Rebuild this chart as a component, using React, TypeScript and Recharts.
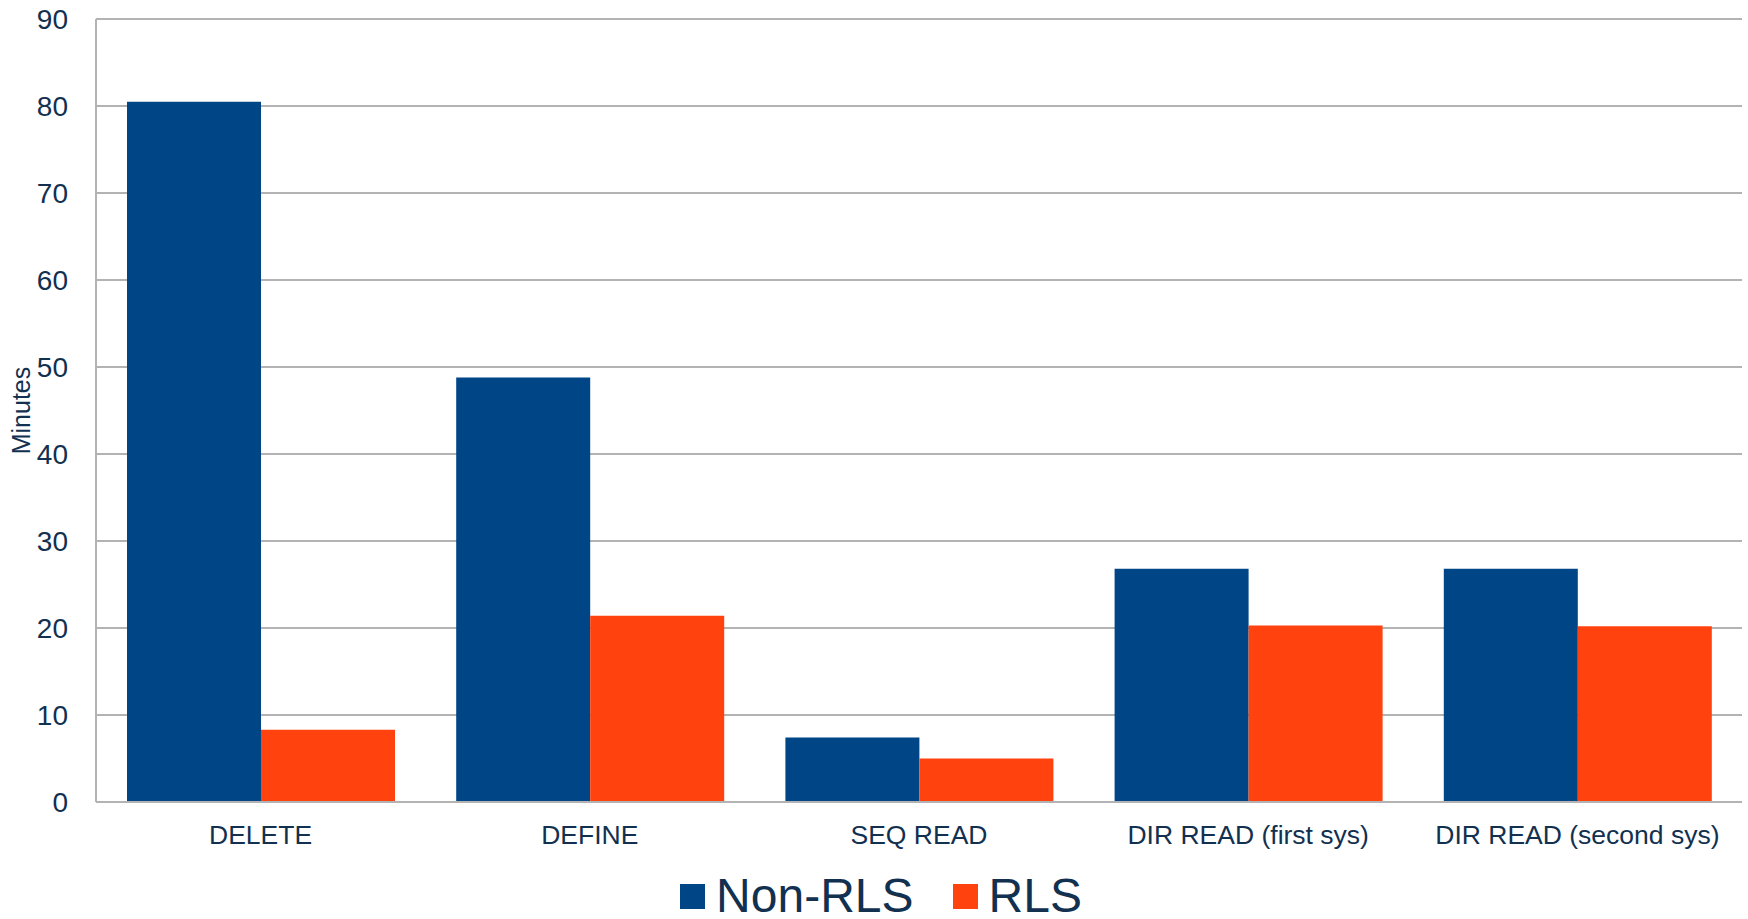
import {
  BarChart,
  Bar,
  XAxis,
  YAxis,
  CartesianGrid,
  Legend,
  Label,
} from "recharts";

const categories = [
  "DELETE",
  "DEFINE",
  "SEQ READ",
  "DIR READ (first sys)",
  "DIR READ (second sys)",
];
const nonRls = [80.5, 48.8, 7.4, 26.8, 26.8];
const rls = [8.3, 21.4, 5.0, 20.3, 20.2];
const yTicks = [0, 10, 20, 30, 40, 50, 60, 70, 80, 90];

const seriesInfo = [
  { key: "nonRls", name: "Non-RLS", color: "#004586" },
  { key: "rls", name: "RLS", color: "#ff420e" },
];

const TEXT = "#12304f";
const FONT = "'Liberation Sans', Arial, sans-serif";

const chartData = categories.map((c, i) => ({
  name: c,
  nonRls: nonRls[i],
  rls: rls[i],
}));

function LegendBox() {
  return (
    <div
      style={{
        display: "flex",
        justifyContent: "center",
        alignItems: "center",
        height: 60,
        boxSizing: "border-box",
        paddingTop: 14,
        paddingLeft: 20,
        fontFamily: FONT,
        color: TEXT,
        fontSize: 48,
        lineHeight: "46px",
      }}
    >
      {seriesInfo.map((s, i) => (
        <div
          key={s.key}
          style={{ display: "flex", alignItems: "center", marginLeft: i ? 39 : 0 }}
        >
          <span
            style={{ width: 25, height: 25, background: s.color, marginRight: 11 }}
          />
          <span>{s.name}</span>
        </div>
      ))}
    </div>
  );
}

export default function App() {
  return (
    <div style={{ position: "absolute", left: 0, top: 0, background: "#fff" }}>
      <BarChart
        width={1748}
        height={919}
        data={chartData}
        margin={{ top: 19, right: 6, bottom: 0, left: 0 }}
        barCategoryGap={31}
        barGap={0}
      >
        <CartesianGrid vertical={false} stroke="#b3b3b3" strokeWidth={2} />
        <XAxis
          dataKey="name"
          height={57}
          tickLine={false}
          tickMargin={17}
          axisLine={{ stroke: "#b3b3b3", strokeWidth: 2 }}
          tick={{ fontSize: 26.5, fill: TEXT, fontFamily: FONT }}
          interval={0}
        />
        <YAxis
          width={96}
          domain={[0, 90]}
          ticks={yTicks}
          tickLine={false}
          tickMargin={22}
          axisLine={{ stroke: "#b3b3b3", strokeWidth: 2 }}
          tick={{ fontSize: 28, fill: TEXT, fontFamily: FONT }}
        >
          <Label
            value="Minutes"
            angle={-90}
            position="insideLeft"
            offset={21}
            style={{ fontSize: 25, fill: TEXT, fontFamily: FONT, textAnchor: "middle" }}
          />
        </YAxis>
        <Legend verticalAlign="bottom" content={() => <LegendBox />} />
        {seriesInfo.map((s) => (
          <Bar
            key={s.key}
            dataKey={s.key}
            name={s.name}
            fill={s.color}
            isAnimationActive={false}
          />
        ))}
      </BarChart>
    </div>
  );
}
